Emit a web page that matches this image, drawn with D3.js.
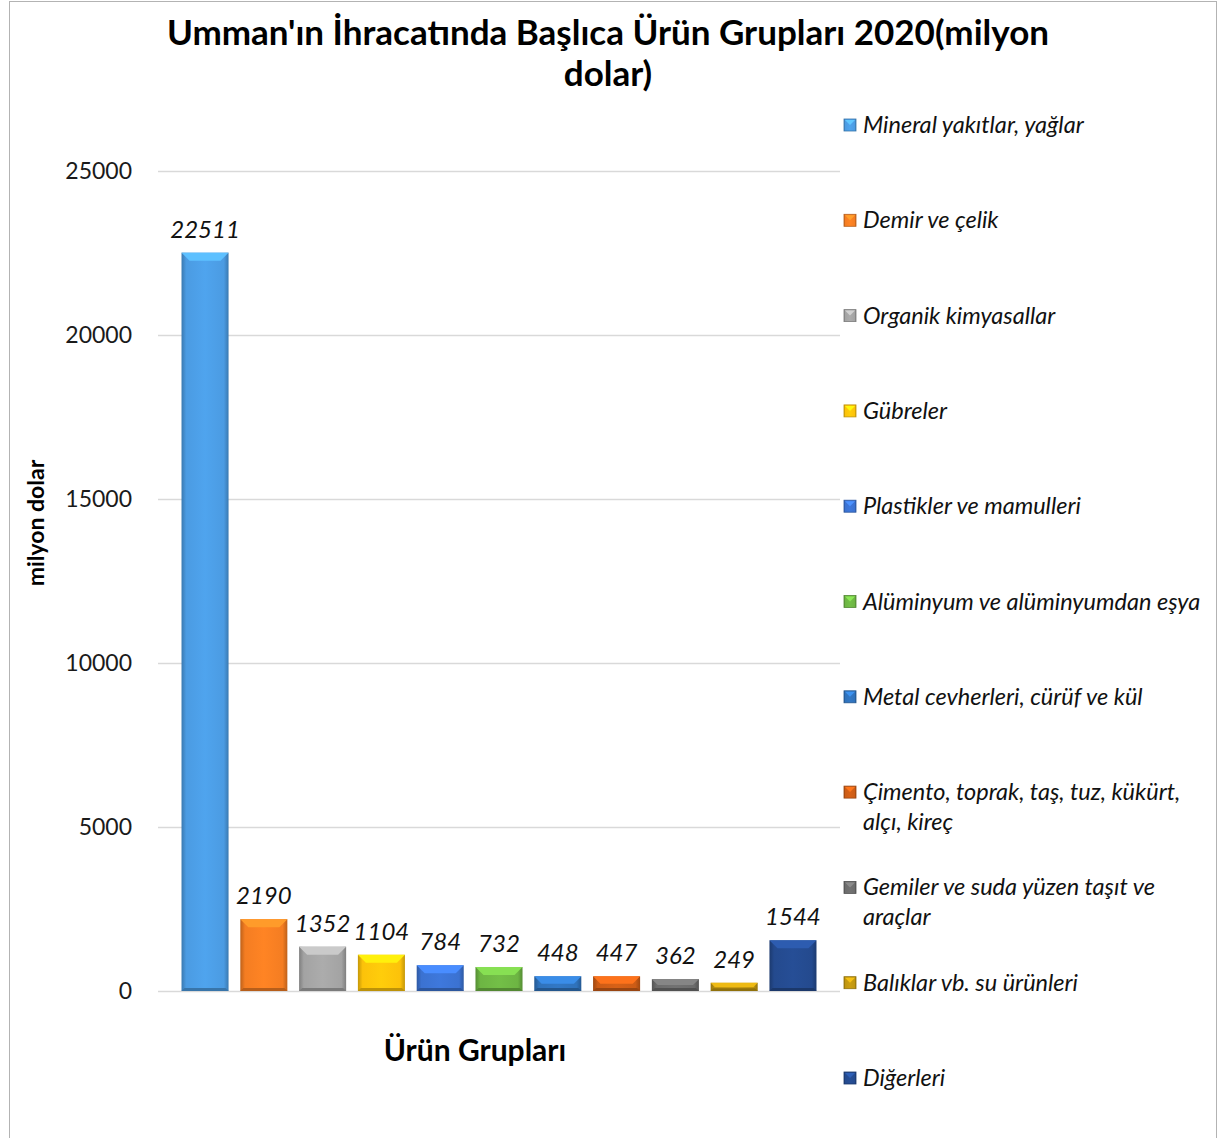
<!DOCTYPE html>
<html>
<head>
<meta charset="utf-8" />
<title>Umman ihracat ürün grupları 2020</title>
<script src="https://cdn.jsdelivr.net/npm/d3@7"></script>
<style>
    body { margin: 0; background: #fff; }
    svg { display: block; font-family: Lato, "Open Sans", sans-serif; }
</style>
</head>
<body>
<svg id="CHART" width="1219" height="1138"></svg>
<script>
    // ---- data ----
    var categories = [
        "Mineral yakıtlar, yağlar",
        "Demir ve çelik",
        "Organik kimyasallar",
        "Gübreler",
        "Plastikler ve mamulleri",
        "Alüminyum ve alüminyumdan eşya",
        "Metal cevherleri, cürüf ve kül",
        "Çimento, toprak, taş, tuz, kükürt, alçı, kireç",
        "Gemiler ve suda yüzen taşıt ve araçlar",
        "Balıklar vb. su ürünleri",
        "Diğerleri"
    ];
    var values = [22511, 2190, 1352, 1104, 784, 732, 448, 447, 362, 249, 1544];
    var colors = ["#4b9be2", "#f47d22", "#a3a3a3", "#fcc20a", "#3b72d1", "#6db543",
                  "#2f72bb", "#cc5c16", "#6c6c6c", "#c0960f", "#244a8e"];
    var yTicks = [0, 5000, 10000, 15000, 20000, 25000];
    var titleLines = ["Umman'ın İhracatında Başlıca Ürün Grupları 2020(milyon", "dolar)"];
    var yTitle = "milyon dolar";
    var xTitle = "Ürün Grupları";

    // ---- layout ----
    var svg = d3.select("#CHART");
    var plot = { left: 158, right: 840, top: 171, bottom: 991 };

    var x = d3.scaleBand()
        .domain(categories)
        .range([plot.left, plot.right])
        .paddingInner(0.2)
        .paddingOuter(0.4);

    var y = d3.scaleLinear()
        .domain([0, 25000])
        .range([plot.bottom, plot.top]);

    // chart border
    svg.append("rect")
        .attr("x", 9.5).attr("y", 1.5)
        .attr("width", 1207).attr("height", 1160)
        .attr("fill", "none")
        .attr("stroke", "#b3b3b3");

    // title
    svg.append("text")
        .attr("x", 608).attr("y", 45)
        .attr("text-anchor", "middle")
        .attr("font-weight", "bold")
        .attr("font-size", 35)
        .attr("fill", "#000")
        .selectAll("tspan").data(titleLines).enter().append("tspan")
        .attr("x", 608)
        .attr("dy", function (d, i) { return i ? 41 : 0; })
        .text(function (d) { return d; });

    // y axis (grid + labels)
    var yAxis = d3.axisLeft(y)
        .tickValues(yTicks)
        .tickSize(-(plot.right - plot.left))
        .tickPadding(26)
        .tickFormat(d3.format("d"));

    var gy = svg.append("g")
        .attr("transform", "translate(" + plot.left + ",0)")
        .call(yAxis);
    gy.select(".domain").remove();
    gy.selectAll(".tick line").attr("stroke", "#d9d9d9").attr("stroke-width", 1.5);
    gy.selectAll(".tick text")
        .attr("font-family", "Lato, 'Open Sans', sans-serif")
        .attr("font-size", 23)
        .attr("fill", "#1a1a1a");

    // bars with bevel look
    var defs = svg.append("defs");
    colors.forEach(function (c, i) {
        var g = defs.append("linearGradient")
            .attr("id", "side" + i)
            .attr("x1", "0%").attr("x2", "100%").attr("y1", "0%").attr("y2", "0%");
        var dark = d3.color(c).darker(0.7).formatHex();
        var light = d3.color(c).brighter(0.15).formatHex();
        g.append("stop").attr("offset", "0%").attr("stop-color", dark);
        g.append("stop").attr("offset", "10%").attr("stop-color", c);
        g.append("stop").attr("offset", "50%").attr("stop-color", light);
        g.append("stop").attr("offset", "90%").attr("stop-color", c);
        g.append("stop").attr("offset", "100%").attr("stop-color", dark);
    });

    var bars = svg.append("g").selectAll("g.bar")
        .data(values).enter().append("g").attr("class", "bar");

    bars.append("rect")
        .attr("x", function (d, i) { return x(categories[i]); })
        .attr("y", function (d) { return y(d); })
        .attr("width", x.bandwidth())
        .attr("height", function (d) { return y(0) - y(d); })
        .attr("fill", function (d, i) { return "url(#side" + i + ")"; });

    // top bevel
    bars.append("polygon")
        .attr("points", function (d, i) {
            var x0 = x(categories[i]), w = x.bandwidth(), t = y(d);
            var b = Math.min(8, (y(0) - t) / 2);
            return [[x0, t], [x0 + w, t], [x0 + w - b, t + b], [x0 + b, t + b]].join(" ");
        })
        .attr("fill", function (d, i) { return d3.color(colors[i]).brighter(0.6); });

    // bottom bevel
    bars.append("polygon")
        .attr("points", function (d, i) {
            var x0 = x(categories[i]), w = x.bandwidth(), bt = y(0);
            var b = Math.min(3, (y(0) - y(d)) / 3);
            return [[x0, bt], [x0 + w, bt], [x0 + w - b, bt - b], [x0 + b, bt - b]].join(" ");
        })
        .attr("fill", function (d, i) { return d3.color(colors[i]).darker(0.8); });

    // value labels
    svg.append("g").selectAll("text")
        .data(values).enter().append("text")
        .attr("x", function (d, i) { return x(categories[i]) + x.bandwidth() / 2; })
        .attr("y", function (d) { return y(d) - 15; })
        .attr("text-anchor", "middle")
        .attr("font-style", "italic")
        .attr("font-size", 24)
        .attr("fill", "#111")
        .text(function (d) { return d; });

    // axis titles
    svg.append("text")
        .attr("transform", "translate(44,523) rotate(-90)")
        .attr("text-anchor", "middle")
        .attr("font-weight", "bold")
        .attr("font-size", 23)
        .attr("fill", "#000")
        .text(yTitle);

    svg.append("text")
        .attr("x", 475).attr("y", 1061)
        .attr("text-anchor", "middle")
        .attr("font-weight", "bold")
        .attr("font-size", 30)
        .attr("fill", "#000")
        .text(xTitle);

    // legend
    var LEG = { x: 844, y: 125, step: 95.3, size: 12, textX: 863, maxW: 345, lineH: 30 };
    var legend = svg.append("g").selectAll("g.item")
        .data(categories).enter().append("g").attr("class", "item")
        .attr("transform", function (d, i) { return "translate(0," + (LEG.y + i * LEG.step) + ")"; });

    legend.append("rect")
        .attr("x", LEG.x).attr("y", -LEG.size / 2)
        .attr("width", LEG.size).attr("height", LEG.size)
        .attr("fill", function (d, i) { return "url(#side" + i + ")"; })
        .attr("stroke", function (d, i) { return d3.color(colors[i]).darker(0.8); })
        .attr("stroke-width", 0.8);
    legend.append("polygon")
        .attr("points", [[LEG.x + 1, -LEG.size / 2 + 1], [LEG.x + LEG.size - 1, -LEG.size / 2 + 1],
                         [LEG.x + LEG.size / 2, 0]].join(" "))
        .attr("fill", function (d, i) { return d3.color(colors[i]).brighter(0.7); });

    legend.each(function (d) {
        var t = d3.select(this).append("text")
            .attr("x", LEG.textX).attr("y", 8)
            .attr("font-style", "italic")
            .attr("font-size", 23.5)
            .attr("fill", "#111");
        var words = d.split(" "), line = [];
        var ts = t.append("tspan").attr("x", LEG.textX).attr("dy", 0);
        words.forEach(function (w) {
            line.push(w);
            ts.text(line.join(" "));
            if (ts.node().getComputedTextLength() > LEG.maxW && line.length > 1) {
                line.pop();
                ts.text(line.join(" "));
                line = [w];
                ts = t.append("tspan").attr("x", LEG.textX).attr("dy", LEG.lineH).text(w);
            }
        });
    });
</script>
</body>
</html>
